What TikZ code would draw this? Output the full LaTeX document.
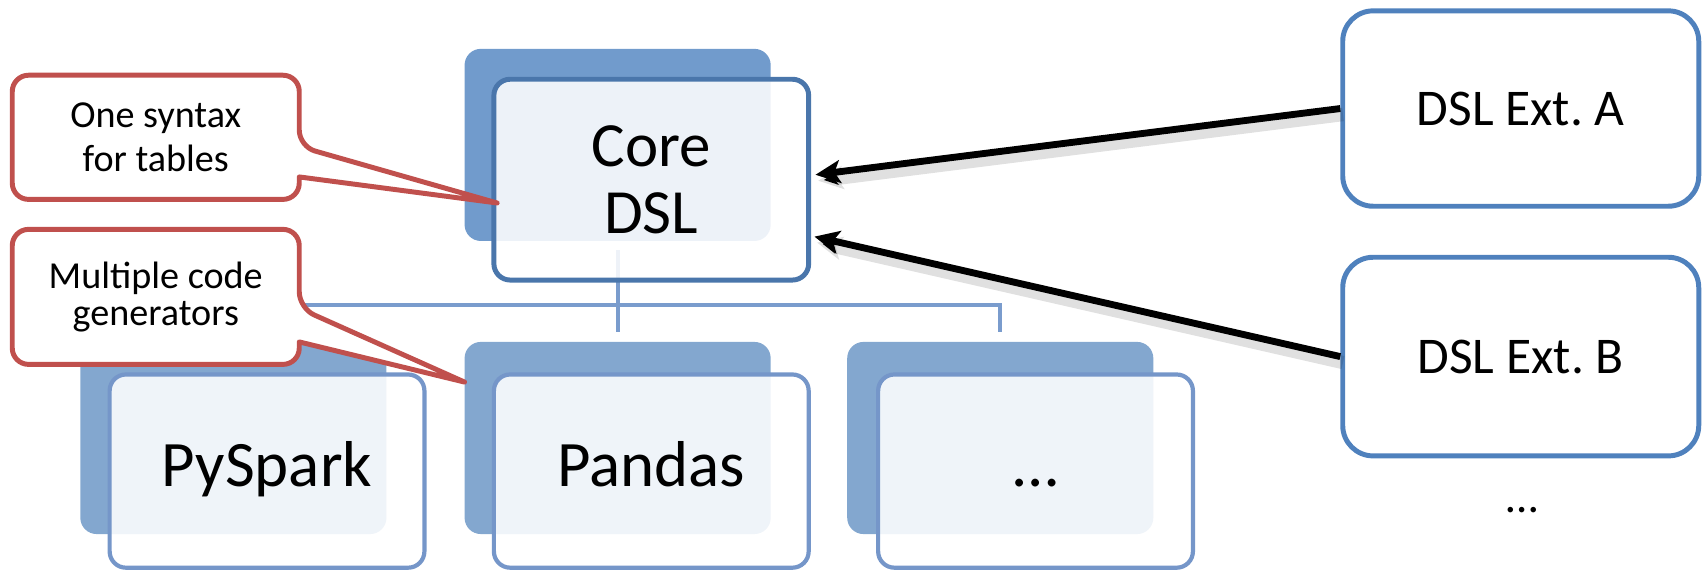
\documentclass[tikz,border=0pt]{standalone}
\usepackage{fontspec}
\setmainfont{Carlito}
\usepackage{xcolor}
\definecolor{extblue}{HTML}{4F81BD}
\definecolor{coreline}{HTML}{4A76AB}
\definecolor{coreshade}{HTML}{719BCC}
\definecolor{genline}{HTML}{7596C9}
\definecolor{genshade}{HTML}{83A7CF}
\definecolor{treeblue}{HTML}{7A9CCD}
\definecolor{notered}{HTML}{C0504D}
\usepackage{tikz}
\usetikzlibrary{arrows.meta, positioning, calc}
\frenchspacing

\begin{document}
\begin{tikzpicture}[
    back/.style={rectangle, rounded corners=0.15cm, minimum width=2.82cm,
      minimum height=1.77cm, inner sep=0pt},
    front/.style={rectangle, rounded corners=0.15cm, minimum width=2.9cm,
      inner sep=0pt, fill=white, fill opacity=0.88, text opacity=1, align=center},
    gen/.style={front, draw=genline, line width=1.1pt, minimum height=1.78cm,
      text height=12pt, text depth=4pt, font=\fontsize{17}{19}\selectfont},
    ext/.style={rectangle, rounded corners=0.28cm, draw=extblue, line width=1.3pt,
      fill=white, minimum width=3.28cm, inner sep=0pt,
      font=\fontsize{13.5}{15}\selectfont},
    notebox/.style={rectangle, minimum width=2.63cm, inner sep=0pt},
    notetext/.style={align=center, inner sep=0pt},
    callout/.style={draw=notered, line width=1.3pt, fill=white,
      rounded corners=0.15cm, line join=round},
    tree/.style={treeblue, line width=1.1pt},
    uses/.style={-{Stealth[length=6.5pt, width=6pt, inset=1.5pt]}, line width=1.8pt,
      preaction={draw=black, draw opacity=0.12, line width=3.5pt,
        transform canvas={shift={(0.025,-0.055)}}}}
  ]
  \useasboundingbox (0,0) rectangle (15.68,5.25);

  % Shadow boxes
  \node[back, fill=coreshade] (coreback) at (5.69,3.915) {};
  \node[back, fill=genshade] (pysparkback) at (2.15,1.215) {};
  \node[back, fill=genshade] (pandasback) at (5.69,1.215) {};
  \node[back, fill=genshade] (moreback) at (9.215,1.215) {};

  % Tree lines
  \draw[tree] ([yshift=-0.08cm]coreback.south) -- ([yshift=0.08cm]pandasback.north);
  \draw[tree] ([yshift=0.08cm]pysparkback.north) |- ([yshift=0.33cm]moreback.north)
    -- ([yshift=0.08cm]moreback.north);

  % Front boxes
  \node[front, draw=coreline, line width=1.3pt, minimum height=1.85cm,
    font=\fontsize{16.5}{17.5}\selectfont] (core) at (6.00,3.595) {Core\\DSL};
  \node[gen] (pyspark) at (2.46,0.91) {PySpark};
  \node[gen] (pandas) at (6.00,0.91) {Pandas};
  \node[gen] (more) at (9.54,0.91) {…};

  % Extensions
  \node[ext, minimum height=1.80cm] (extA) at (14.01,4.25) {DSL Ext. A};
  \node[ext, minimum height=1.83cm] (extB) at (14.01,1.965) {DSL Ext. B};
  \node[font=\fontsize{12}{14}\selectfont] (moreext) at (14.02,0.55) {…};

  % Callouts
  \node[notebox, minimum height=1.13cm] (syntax) at (1.435,3.985) {};
  \node[notebox, minimum height=1.23cm] (codegen) at (1.435,2.515) {};
  \coordinate (syntaxtip) at (4.58,3.38);
  \coordinate (codegentip) at (4.28,1.73);
  \draw[callout] (syntax.north west) -- (syntax.north east)
    -- ($(syntax.east)+(0,-0.085)$) [sharp corners] -- (syntaxtip)
    -- ($(syntax.east)+(0,-0.365)$) [rounded corners=0.15cm] -- (syntax.south east)
    -- (syntax.south west) -- cycle;
  \draw[callout] (codegen.north west) -- (codegen.north east)
    -- ($(codegen.east)+(0,-0.105)$) [sharp corners] -- (codegentip)
    -- ($(codegen.east)+(0,-0.415)$) [rounded corners=0.15cm] -- (codegen.south east)
    -- (codegen.south west) -- cycle;
  \node[notetext, font=\fontsize{10}{11.3}\selectfont] (syntaxtext) at (syntax)
    {One syntax\\for tables};
  \node[notetext, font=\fontsize{10}{9.8}\selectfont] (codegentext) at (codegen)
    {Multiple code\\generators};

  % Extension arrows
  \coordinate (extAend) at ($(core.east)+(0.04,0.045)$);
  \coordinate (extBend) at ($(core.east)+(0.03,-0.525)$);
  \draw[uses] (extA.west) -- (extAend);
  \draw[uses] (extB.west) -- (extBend);
\end{tikzpicture}
\end{document}
